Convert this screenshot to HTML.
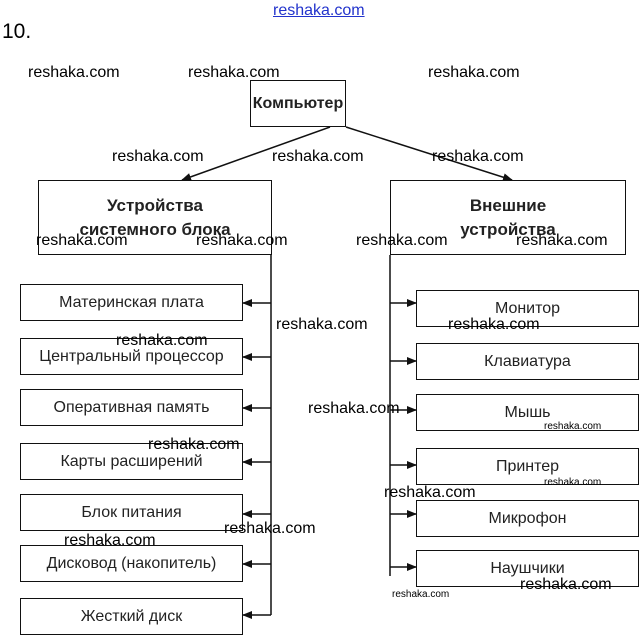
<!DOCTYPE html>
<html><head><meta charset="utf-8"><style>
body{margin:0;width:643px;height:637px;background:#fff;position:relative;overflow:hidden;font-family:"Liberation Sans",sans-serif}
.b{position:absolute;border:1.5px solid #111;box-sizing:border-box;display:flex;align-items:center;justify-content:center;text-align:center;color:#222;font-size:16px}
.w{position:absolute;font-size:16px;color:#000}
.s{font-size:10px}
</style></head><body>
<div style="position:absolute;left:273px;top:2px;color:#2233cc;font-size:16px;text-decoration:underline">reshaka.com</div>
<div style="position:absolute;left:2px;top:20px;font-size:21px">10.</div>

<div class="b" style="left:250px;top:80px;width:96px;height:47px;font-weight:bold;font-size:16px">Компьютер</div>
<div class="b" style="left:38px;top:180px;width:234px;height:75px;font-weight:bold;line-height:24px;font-size:17px">Устройства<br>системного блока</div>
<div class="b" style="left:390px;top:180px;width:236px;height:75px;font-weight:bold;line-height:24px;font-size:17px">Внешние<br>устройства</div>

<div class="b" style="left:20px;top:284px;width:223px;height:37px">Материнская плата</div>
<div class="b" style="left:20px;top:338px;width:223px;height:37px">Центральный процессор</div>
<div class="b" style="left:20px;top:389px;width:223px;height:37px">Оперативная память</div>
<div class="b" style="left:20px;top:443px;width:223px;height:37px">Карты расширений</div>
<div class="b" style="left:20px;top:494px;width:223px;height:37px">Блок питания</div>
<div class="b" style="left:20px;top:545px;width:223px;height:37px">Дисковод (накопитель)</div>
<div class="b" style="left:20px;top:598px;width:223px;height:37px">Жесткий диск</div>

<div class="b" style="left:416px;top:290px;width:223px;height:37px">Монитор</div>
<div class="b" style="left:416px;top:343px;width:223px;height:37px">Клавиатура</div>
<div class="b" style="left:416px;top:394px;width:223px;height:37px">Мышь</div>
<div class="b" style="left:416px;top:448px;width:223px;height:37px">Принтер</div>
<div class="b" style="left:416px;top:500px;width:223px;height:37px">Микрофон</div>
<div class="b" style="left:416px;top:550px;width:223px;height:37px">Наушчики</div>

<svg width="643" height="637" style="position:absolute;left:0;top:0">
<defs><marker id="a" markerWidth="10" markerHeight="8" refX="9" refY="4" orient="auto" markerUnits="userSpaceOnUse"><path d="M0,0L10,4L0,8z" fill="#111"/></marker></defs>
<g stroke="#111" stroke-width="1.5" fill="none">
<line x1="330" y1="127" x2="182" y2="180" marker-end="url(#a)"/>
<line x1="346" y1="127" x2="512" y2="180" marker-end="url(#a)"/>
<line x1="271" y1="255" x2="271" y2="615"/>
<line x1="271" y1="303" x2="243" y2="303" marker-end="url(#a)"/>
<line x1="271" y1="357" x2="243" y2="357" marker-end="url(#a)"/>
<line x1="271" y1="408" x2="243" y2="408" marker-end="url(#a)"/>
<line x1="271" y1="462" x2="243" y2="462" marker-end="url(#a)"/>
<line x1="271" y1="514" x2="243" y2="514" marker-end="url(#a)"/>
<line x1="271" y1="564" x2="243" y2="564" marker-end="url(#a)"/>
<line x1="271" y1="615" x2="243" y2="615" marker-end="url(#a)"/>
<line x1="390" y1="255" x2="390" y2="576"/>
<line x1="390" y1="303" x2="416" y2="303" marker-end="url(#a)"/>
<line x1="390" y1="361" x2="416" y2="361" marker-end="url(#a)"/>
<line x1="390" y1="410" x2="416" y2="410" marker-end="url(#a)"/>
<line x1="390" y1="465" x2="416" y2="465" marker-end="url(#a)"/>
<line x1="390" y1="514" x2="416" y2="514" marker-end="url(#a)"/>
<line x1="390" y1="567" x2="416" y2="567" marker-end="url(#a)"/>
</g></svg>

<div class="w" style="left:28px;top:64px">reshaka.com</div>
<div class="w" style="left:188px;top:64px">reshaka.com</div>
<div class="w" style="left:428px;top:64px">reshaka.com</div>
<div class="w" style="left:112px;top:148px">reshaka.com</div>
<div class="w" style="left:272px;top:148px">reshaka.com</div>
<div class="w" style="left:432px;top:148px">reshaka.com</div>
<div class="w" style="left:36px;top:232px">reshaka.com</div>
<div class="w" style="left:196px;top:232px">reshaka.com</div>
<div class="w" style="left:356px;top:232px">reshaka.com</div>
<div class="w" style="left:516px;top:232px">reshaka.com</div>
<div class="w" style="left:276px;top:316px">reshaka.com</div>
<div class="w" style="left:448px;top:316px">reshaka.com</div>
<div class="w" style="left:116px;top:332px">reshaka.com</div>
<div class="w" style="left:308px;top:400px">reshaka.com</div>
<div class="w s" style="left:544px;top:421px">reshaka.com</div>
<div class="w" style="left:148px;top:436px">reshaka.com</div>
<div class="w s" style="left:544px;top:477px">reshaka.com</div>
<div class="w" style="left:384px;top:484px">reshaka.com</div>
<div class="w" style="left:224px;top:520px">reshaka.com</div>
<div class="w" style="left:64px;top:532px">reshaka.com</div>
<div class="w" style="left:520px;top:576px">reshaka.com</div>
<div class="w s" style="left:392px;top:589px">reshaka.com</div>
</body></html>
